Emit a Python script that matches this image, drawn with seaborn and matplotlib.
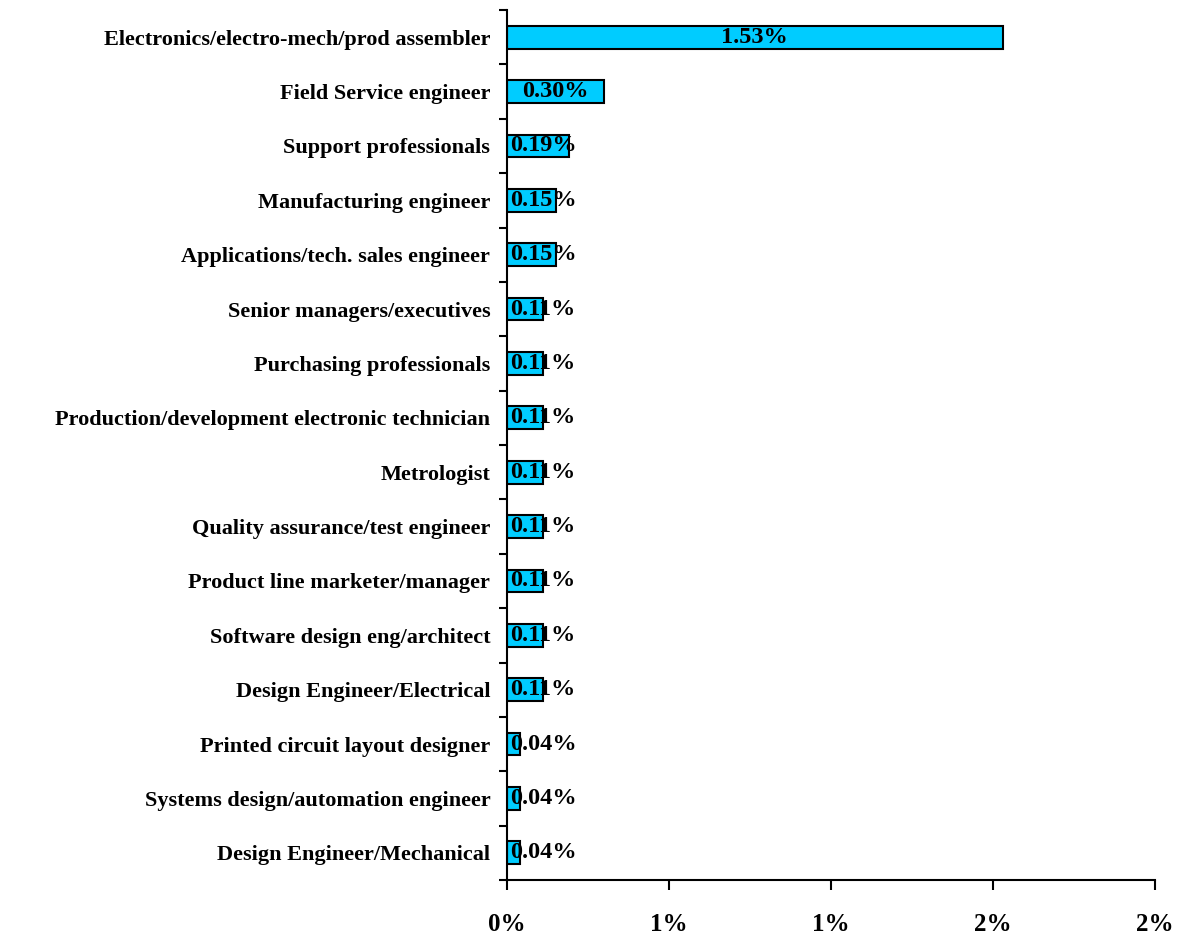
import matplotlib
matplotlib.use("Agg")
import matplotlib.pyplot as plt
import matplotlib.ticker as mticker
import pandas as pd
import seaborn as sns

categories = [
    "Electronics/electro-mech/prod assembler",
    "Field Service engineer",
    "Support professionals",
    "Manufacturing engineer",
    "Applications/tech. sales engineer",
    "Senior managers/executives",
    "Purchasing professionals",
    "Production/development electronic technician",
    "Metrologist",
    "Quality assurance/test engineer",
    "Product line marketer/manager",
    "Software design eng/architect",
    "Design Engineer/Electrical",
    "Printed circuit layout designer",
    "Systems design/automation engineer",
    "Design Engineer/Mechanical",
]
shares = [1.53, 0.30, 0.19, 0.15, 0.15, 0.11, 0.11, 0.11,
          0.11, 0.11, 0.11, 0.11, 0.11, 0.04, 0.04, 0.04]
x_ticks = [0.0, 0.5, 1.0, 1.5, 2.0]

df = pd.DataFrame({"job": categories, "share": shares})

sns.set_style("ticks")
plt.rcParams["font.family"] = ["Liberation Serif", "DejaVu Serif"]
plt.rcParams["font.weight"] = "bold"
plt.rcParams["text.color"] = "black"
plt.rcParams["xtick.color"] = "black"
plt.rcParams["ytick.color"] = "black"
plt.rcParams["axes.edgecolor"] = "black"

fig = plt.figure(figsize=(11.82, 9.36), dpi=100)
ax = fig.add_axes([507 / 1182, 56 / 936, 648 / 1182, 870 / 936])

sns.barplot(data=df, x="share", y="job", orient="h", color="#00CCFF",
            saturation=1, edgecolor="black", linewidth=1.5, width=0.42, ax=ax)


def pct_half_up(v, pos):
    return f"{int(v + 0.5)}%"


ax.set_xlim(0, 2.0)
ax.set_ylim(len(categories) - 0.5, -0.5)
ax.set_xticks(x_ticks)
ax.xaxis.set_major_formatter(mticker.FuncFormatter(pct_half_up))
ax.tick_params(axis="x", direction="out", length=7, width=1.5, pad=17,
               labelsize=18, labelcolor="black")
ax.tick_params(axis="y", which="major", length=0, pad=12, labelsize=16,
               labelcolor="black")
ax.set_yticks([i - 0.5 for i in range(len(categories) + 1)], minor=True)
ax.tick_params(axis="y", which="minor", direction="out", length=6, width=1.5)
for lab in ax.get_yticklabels() + ax.get_xticklabels():
    lab.set_fontweight("bold")

# Value labels: centred in the bar, but kept from crossing the value axis
# when the bar is narrower than its label.
renderer = fig.canvas.get_renderer()
for i, v in enumerate(shares):
    t = ax.text(v / 2, i, f"{v:.2f}%", ha="center", va="center",
                fontsize=17.5, fontweight="bold", color="black")
    bb = t.get_window_extent(renderer)
    x0_px = ax.transData.transform((0, i))[0]
    if bb.x0 < x0_px + 2:
        t.set_x(0)
        t.set_ha("left")
        t.set_transform(ax.transData + matplotlib.transforms.ScaledTranslation(
            3 / 100, 0, fig.dpi_scale_trans))

ax.set_xlabel("")
ax.set_ylabel("")
for s in ["top", "right"]:
    ax.spines[s].set_visible(False)
for s in ["left", "bottom"]:
    ax.spines[s].set_linewidth(1.5)
    ax.spines[s].set_color("black")

fig.savefig("out.png", dpi=100)
